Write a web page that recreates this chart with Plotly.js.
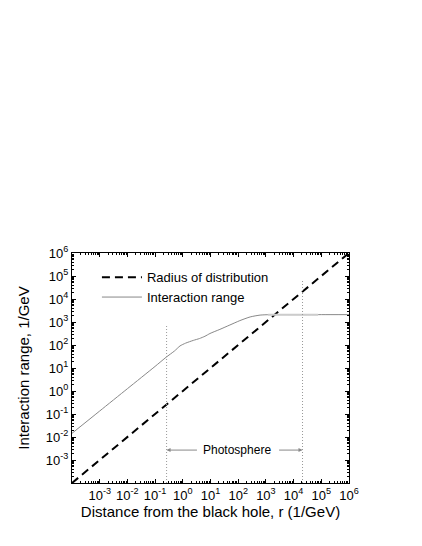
<!DOCTYPE html>
<html>
<head>
<meta charset="utf-8">
<script src="https://cdn.plot.ly/plotly-3.0.1.min.js"></script>
<style>html,body{margin:0;padding:0;background:#fff;}</style>
</head>
<body>
<div id="chart" style="width:422px;height:546px;"></div>
<script>
// Radius of distribution (r = R)
const radiusR = [1e-4, 1e6];
const radiusVal = [1e-4, 1e6];

// Interaction range vs distance (log10 values)
const rangeLogR = [-4, -3, -2, -1, -0.6, -0.3, -0.1, 0.1, 0.38, 0.6, 0.8, 0.98, 1.34, 1.70, 2.06, 2.43, 2.79, 3.15, 4, 5, 6];
const rangeLogY = [-1.84, -0.87, 0.10, 1.07, 1.47, 1.74, 1.96, 2.08, 2.20, 2.28, 2.38, 2.50, 2.68, 2.87, 3.06, 3.22, 3.30, 3.32, 3.32, 3.32, 3.32];

// light overlapping segment on the plateau
const plateauLogR = [3.08, 4.88];
const plateauLogY = [3.32, 3.32];

// Photosphere boundaries
const photoInner = 0.26;
const photoOuter = 2.1e4;
const photoInnerTop = 740;
const photoOuterTop = 7.4e4;
const photoLabelY = 2.7e-3;

const tickPowers = [-3, -2, -1, 0, 1, 2, 3, 4, 5, 6];
const tickVals = tickPowers.map(p => Math.pow(10, p));
const tickText = tickPowers.map(p => '10<sup>' + (p < 0 ? '-' + (-p) : p) + '</sup>');

const pow10 = a => a.map(v => Math.pow(10, v));

const traces = [
  {x: radiusR, y: radiusVal, mode: 'lines', name: 'Radius of distribution',
   line: {color: '#000', width: 2, dash: '8px,5px'}},
  {x: pow10(rangeLogR), y: pow10(rangeLogY), mode: 'lines', name: 'Interaction range',
   line: {color: '#888', width: 1, shape: 'spline', smoothing: 0.6}},
  {x: pow10(plateauLogR), y: pow10(plateauLogY), mode: 'lines', showlegend: false,
   line: {color: '#ccc', width: 2}, hoverinfo: 'skip'},
  {x: [photoInner, photoInner], y: [1e-4, photoInnerTop], mode: 'lines', showlegend: false,
   line: {color: '#999', width: 1, dash: '1px,2px'}},
  {x: [photoOuter, photoOuter], y: [1e-4, photoOuterTop], mode: 'lines', showlegend: false,
   line: {color: '#999', width: 1, dash: '1px,2px'}}
];

const font = {family: 'Liberation Sans, Arial, sans-serif', color: '#000'};

const axisCommon = {
  type: 'log', showline: true, linecolor: '#000', linewidth: 1, mirror: 'allticks',
  ticks: 'inside', ticklen: 4, tickcolor: '#000', showgrid: false, zeroline: false,
  tickmode: 'array', tickvals: tickVals, ticktext: tickText,
  tickfont: {family: font.family, size: 13, color: '#000'},
  minor: {ticks: 'inside', ticklen: 2, tickcolor: '#000', dtick: 'D1', showgrid: false}
};

const layout = {
  width: 422, height: 546,
  margin: {l: 72, r: 73, t: 253, b: 63},
  paper_bgcolor: '#fff', plot_bgcolor: '#fff',
  font: font,
  showlegend: true,
  legend: {x: 0.09, y: 0.96, xanchor: 'left', yanchor: 'top', bgcolor: 'rgba(0,0,0,0)',
           font: {family: font.family, size: 13, color: '#000'}, itemwidth: 40, tracegroupgap: 4},
  xaxis: Object.assign({}, axisCommon, {
    range: [-4, 6],
    title: {text: 'Distance from the black hole, r (1/GeV)', font: {family: font.family, size: 15, color: '#000'}, standoff: 4}
  }),
  yaxis: Object.assign({}, axisCommon, {
    range: [-4, 6],
    title: {text: 'Interaction range, 1/GeV', font: {family: font.family, size: 15, color: '#000'}, standoff: 12}
  }),
  annotations: [
    {x: Math.log10(90), y: Math.log10(photoLabelY), xref: 'x', yref: 'y', text: 'Photosphere',
     showarrow: false, font: {family: font.family, size: 12, color: '#000'}},
    {x: Math.log10(photoInner), y: Math.log10(photoLabelY), ax: Math.log10(photoInner) + 1.15, ay: Math.log10(photoLabelY),
     axref: 'x', ayref: 'y', xref: 'x', yref: 'y', text: '', showarrow: true,
     arrowhead: 2, arrowsize: 0.8, arrowwidth: 1, arrowcolor: '#888', standoff: 0},
    {x: Math.log10(photoOuter), y: Math.log10(photoLabelY), ax: Math.log10(photoOuter) - 0.9, ay: Math.log10(photoLabelY),
     axref: 'x', ayref: 'y', xref: 'x', yref: 'y', text: '', showarrow: true,
     arrowhead: 2, arrowsize: 0.8, arrowwidth: 1, arrowcolor: '#888', standoff: 0}
  ]
};

Plotly.newPlot('chart', traces, layout, {displayModeBar: false, staticPlot: true});
</script>
</body>
</html>
